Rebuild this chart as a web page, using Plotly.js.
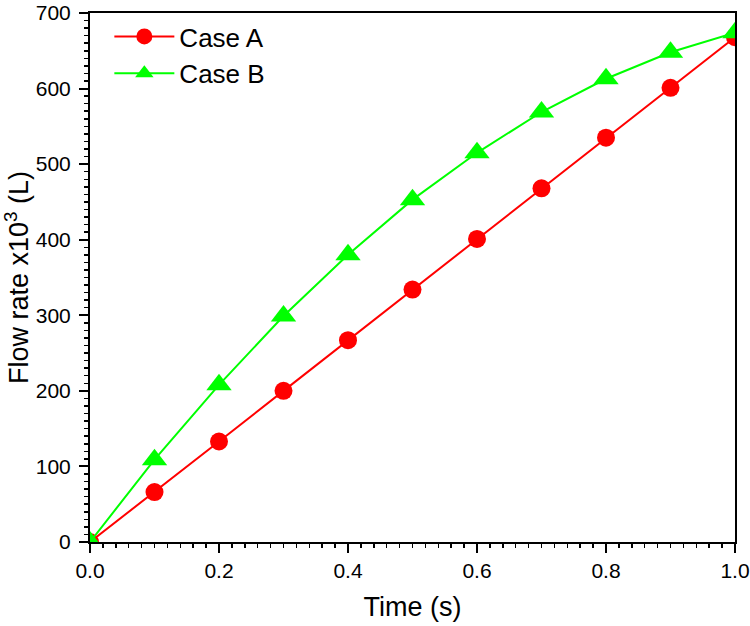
<!DOCTYPE html>
<html>
<head>
<meta charset="utf-8">
<script src="https://cdn.plot.ly/plotly-3.0.1.min.js"></script>
<style>html,body{margin:0;padding:0;background:#fff;}#chart{width:750px;height:626px;}</style>
</head>
<body>
<div id="chart"></div>
<script>
const timeValues = [0.0, 0.1, 0.2, 0.3, 0.4, 0.5, 0.6, 0.7, 0.8, 0.9, 1.0];
const caseA = [0, 66, 133, 200, 267, 334, 401, 468, 535, 601, 668];
const caseB = [0, 109, 208, 299, 380, 453, 515, 569, 613, 648, 674];
const seriesNames = ["Case A", "Case B"];
const xTickVals = [0, 0.2, 0.4, 0.6, 0.8, 1.0];
const xTickText = ["0.0", "0.2", "0.4", "0.6", "0.8", "1.0"];
const yTickVals = [0, 100, 200, 300, 400, 500, 600, 700];

const font = "Liberation Sans, Arial, sans-serif";

const traces = [
  {
    x: timeValues, y: caseA, name: seriesNames[0], type: "scatter", mode: "lines+markers",
    line: {color: "#ff0000", width: 2},
    marker: {symbol: "circle", size: 18, color: "#ff0000"}
  },
  {
    x: timeValues, y: caseB, name: seriesNames[1], type: "scatter", mode: "lines+markers",
    line: {color: "#00ff00", width: 2},
    marker: {symbol: "triangle-up", size: 22, color: "#00ff00"}
  },
  {
    x: [], y: [], xaxis: "x2", yaxis: "y2", showlegend: false, hoverinfo: "skip", type: "scatter", mode: "markers"
  }
];

const layout = {
  width: 750, height: 626,
  margin: {l: 90, r: 15, t: 13, b: 84},
  paper_bgcolor: "#fff", plot_bgcolor: "#fff",
  font: {family: font, color: "#000"},
  showlegend: true,
  legend: {x: 0.03, y: 1.0, xanchor: "left", yanchor: "top", font: {size: 26, family: font}, itemwidth: 60, bgcolor: "rgba(0,0,0,0)", tracegroupgap: 0},
  xaxis: {
    range: [0, 1], tickmode: "array", tickvals: xTickVals, ticktext: xTickText,
    showline: true, linecolor: "#000", linewidth: 2, mirror: true, automargin: false,
    ticks: "outside", ticklen: 9, tickwidth: 2, tickcolor: "#000",
    showgrid: false, zeroline: false, ticklabeloverflow: "allow",
    tickfont: {size: 21, family: font},
    title: {text: "Time (s)", font: {size: 27, family: font}, standoff: 16}
  },
  yaxis: {
    range: [0, 700], tickmode: "array", tickvals: yTickVals,
    showline: true, linecolor: "#000", linewidth: 2, mirror: true, automargin: false,
    ticks: "outside", ticklen: 9, tickwidth: 2, tickcolor: "#000",
    showgrid: false, zeroline: false, ticklabeloverflow: "allow",
    tickfont: {size: 21, family: font},
    ticklabelstandoff: 4,
    title: {text: "Flow rate x10<sup>3</sup> (L)", font: {size: 27, family: font}, standoff: 12}
  },
  xaxis2: {
    overlaying: "x", anchor: "y2", side: "bottom", range: [0, 1], dtick: 0.02, tick0: 0, automargin: false,
    showticklabels: false, ticks: "outside", ticklen: 5, tickwidth: 1.5, tickcolor: "#000",
    showgrid: false, zeroline: false, showline: false
  },
  yaxis2: {
    overlaying: "y", anchor: "x2", side: "left", range: [0, 700], dtick: 10, tick0: 0, automargin: false,
    showticklabels: false, ticks: "outside", ticklen: 5, tickwidth: 1.5, tickcolor: "#000",
    showgrid: false, zeroline: false, showline: false
  }
};

Plotly.newPlot("chart", traces, layout, {staticPlot: true, displayModeBar: false});
</script>
</body>
</html>
